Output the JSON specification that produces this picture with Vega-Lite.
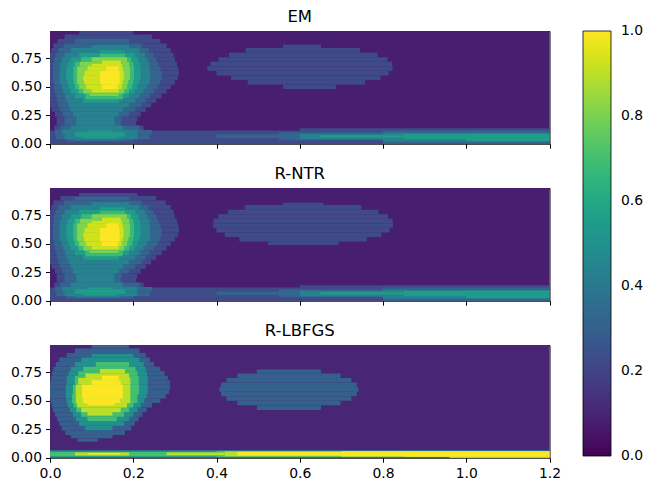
{
"$schema":"https://vega.github.io/schema/vega-lite/v6.json",
"padding":{"left":10,"top":8,"right":5,"bottom":5},
"background":"white",
"data":{"values":[
{"p":"EM","x0":0,"x1":1.2,"y0":0,"y1":0.99,"v":0.08},
{"p":"EM","x0":0.07,"x1":0.2,"y0":0.96,"y1":0.99,"v":0.22},
{"p":"EM","x0":0.035,"x1":0.245,"y0":0.92,"y1":0.96,"v":0.22},
{"p":"EM","x0":0.018,"x1":0.265,"y0":0.88,"y1":0.92,"v":0.22},
{"p":"EM","x0":0.008,"x1":0.28,"y0":0.84,"y1":0.88,"v":0.22},
{"p":"EM","x0":0.003,"x1":0.29,"y0":0.8,"y1":0.84,"v":0.22},
{"p":"EM","x0":0,"x1":0.297,"y0":0.76,"y1":0.8,"v":0.22},
{"p":"EM","x0":0,"x1":0.3,"y0":0.72,"y1":0.76,"v":0.22},
{"p":"EM","x0":0,"x1":0.305,"y0":0.68,"y1":0.72,"v":0.22},
{"p":"EM","x0":0,"x1":0.308,"y0":0.64,"y1":0.68,"v":0.22},
{"p":"EM","x0":0,"x1":0.31,"y0":0.6,"y1":0.64,"v":0.22},
{"p":"EM","x0":0,"x1":0.307,"y0":0.56,"y1":0.6,"v":0.22},
{"p":"EM","x0":0,"x1":0.3,"y0":0.52,"y1":0.56,"v":0.22},
{"p":"EM","x0":0,"x1":0.29,"y0":0.48,"y1":0.52,"v":0.22},
{"p":"EM","x0":0,"x1":0.28,"y0":0.44,"y1":0.48,"v":0.22},
{"p":"EM","x0":0,"x1":0.268,"y0":0.4,"y1":0.44,"v":0.22},
{"p":"EM","x0":0,"x1":0.255,"y0":0.36,"y1":0.4,"v":0.22},
{"p":"EM","x0":0,"x1":0.243,"y0":0.32,"y1":0.36,"v":0.22},
{"p":"EM","x0":0.004,"x1":0.23,"y0":0.28,"y1":0.32,"v":0.22},
{"p":"EM","x0":0.012,"x1":0.218,"y0":0.24,"y1":0.28,"v":0.22},
{"p":"EM","x0":0.016,"x1":0.21,"y0":0.2,"y1":0.24,"v":0.22},
{"p":"EM","x0":0.016,"x1":0.207,"y0":0.16,"y1":0.2,"v":0.22},
{"p":"EM","x0":0.01,"x1":0.225,"y0":0.12,"y1":0.16,"v":0.22},
{"p":"EM","x0":0,"x1":0.6,"y0":0,"y1":0.117,"v":0.22},
{"p":"EM","x0":0.6,"x1":1.2,"y0":0,"y1":0.135,"v":0.22},
{"p":"EM","x0":0.06,"x1":0.19,"y0":0.88,"y1":0.92,"v":0.32},
{"p":"EM","x0":0.033,"x1":0.22,"y0":0.84,"y1":0.88,"v":0.32},
{"p":"EM","x0":0.02,"x1":0.237,"y0":0.8,"y1":0.84,"v":0.32},
{"p":"EM","x0":0.013,"x1":0.248,"y0":0.76,"y1":0.8,"v":0.32},
{"p":"EM","x0":0.01,"x1":0.255,"y0":0.72,"y1":0.76,"v":0.32},
{"p":"EM","x0":0.008,"x1":0.26,"y0":0.68,"y1":0.72,"v":0.32},
{"p":"EM","x0":0.007,"x1":0.265,"y0":0.64,"y1":0.68,"v":0.32},
{"p":"EM","x0":0.007,"x1":0.268,"y0":0.56,"y1":0.64,"v":0.32},
{"p":"EM","x0":0.008,"x1":0.265,"y0":0.52,"y1":0.56,"v":0.32},
{"p":"EM","x0":0.01,"x1":0.258,"y0":0.48,"y1":0.52,"v":0.32},
{"p":"EM","x0":0.012,"x1":0.25,"y0":0.44,"y1":0.48,"v":0.32},
{"p":"EM","x0":0.015,"x1":0.24,"y0":0.4,"y1":0.44,"v":0.32},
{"p":"EM","x0":0.017,"x1":0.23,"y0":0.36,"y1":0.4,"v":0.32},
{"p":"EM","x0":0.02,"x1":0.22,"y0":0.32,"y1":0.36,"v":0.32},
{"p":"EM","x0":0.025,"x1":0.205,"y0":0.28,"y1":0.32,"v":0.32},
{"p":"EM","x0":0.03,"x1":0.19,"y0":0.24,"y1":0.28,"v":0.32},
{"p":"EM","x0":0.035,"x1":0.172,"y0":0.2,"y1":0.24,"v":0.32},
{"p":"EM","x0":0.035,"x1":0.17,"y0":0.16,"y1":0.2,"v":0.32},
{"p":"EM","x0":0.025,"x1":0.215,"y0":0.12,"y1":0.16,"v":0.32},
{"p":"EM","x0":0.012,"x1":0.245,"y0":0.08,"y1":0.12,"v":0.32},
{"p":"EM","x0":0.015,"x1":0.24,"y0":0.04,"y1":0.08,"v":0.32},
{"p":"EM","x0":0.04,"x1":0.2,"y0":0.02,"y1":0.04,"v":0.32},
{"p":"EM","x0":0.4,"x1":0.55,"y0":0.05,"y1":0.08,"v":0.32},
{"p":"EM","x0":0.55,"x1":0.8,"y0":0.03,"y1":0.1,"v":0.32},
{"p":"EM","x0":0.8,"x1":1.2,"y0":0,"y1":0.115,"v":0.32},
{"p":"EM","x0":0.1,"x1":0.19,"y0":0.84,"y1":0.865,"v":0.44},
{"p":"EM","x0":0.05,"x1":0.215,"y0":0.8,"y1":0.84,"v":0.44},
{"p":"EM","x0":0.035,"x1":0.228,"y0":0.76,"y1":0.8,"v":0.44},
{"p":"EM","x0":0.028,"x1":0.234,"y0":0.72,"y1":0.76,"v":0.44},
{"p":"EM","x0":0.025,"x1":0.238,"y0":0.68,"y1":0.72,"v":0.44},
{"p":"EM","x0":0.023,"x1":0.24,"y0":0.52,"y1":0.68,"v":0.44},
{"p":"EM","x0":0.028,"x1":0.233,"y0":0.48,"y1":0.52,"v":0.44},
{"p":"EM","x0":0.032,"x1":0.225,"y0":0.44,"y1":0.48,"v":0.44},
{"p":"EM","x0":0.036,"x1":0.215,"y0":0.4,"y1":0.44,"v":0.44},
{"p":"EM","x0":0.04,"x1":0.205,"y0":0.36,"y1":0.4,"v":0.44},
{"p":"EM","x0":0.045,"x1":0.19,"y0":0.32,"y1":0.36,"v":0.44},
{"p":"EM","x0":0.05,"x1":0.175,"y0":0.28,"y1":0.32,"v":0.44},
{"p":"EM","x0":0.055,"x1":0.165,"y0":0.24,"y1":0.28,"v":0.44},
{"p":"EM","x0":0.063,"x1":0.155,"y0":0.16,"y1":0.24,"v":0.44},
{"p":"EM","x0":0.05,"x1":0.175,"y0":0.12,"y1":0.16,"v":0.44},
{"p":"EM","x0":0.03,"x1":0.21,"y0":0.08,"y1":0.12,"v":0.44},
{"p":"EM","x0":0.035,"x1":0.21,"y0":0.04,"y1":0.08,"v":0.44},
{"p":"EM","x0":0.06,"x1":0.17,"y0":0.03,"y1":0.04,"v":0.44},
{"p":"EM","x0":0.6,"x1":0.8,"y0":0.04,"y1":0.085,"v":0.44},
{"p":"EM","x0":0.8,"x1":1.2,"y0":0.02,"y1":0.095,"v":0.44},
{"p":"EM","x0":0.12,"x1":0.18,"y0":0.8,"y1":0.82,"v":0.55},
{"p":"EM","x0":0.07,"x1":0.205,"y0":0.76,"y1":0.8,"v":0.55},
{"p":"EM","x0":0.05,"x1":0.212,"y0":0.72,"y1":0.76,"v":0.55},
{"p":"EM","x0":0.043,"x1":0.216,"y0":0.68,"y1":0.72,"v":0.55},
{"p":"EM","x0":0.04,"x1":0.218,"y0":0.64,"y1":0.68,"v":0.55},
{"p":"EM","x0":0.039,"x1":0.218,"y0":0.56,"y1":0.64,"v":0.55},
{"p":"EM","x0":0.041,"x1":0.215,"y0":0.52,"y1":0.56,"v":0.55},
{"p":"EM","x0":0.045,"x1":0.21,"y0":0.48,"y1":0.52,"v":0.55},
{"p":"EM","x0":0.05,"x1":0.203,"y0":0.44,"y1":0.48,"v":0.55},
{"p":"EM","x0":0.06,"x1":0.19,"y0":0.4,"y1":0.44,"v":0.55},
{"p":"EM","x0":0.08,"x1":0.165,"y0":0.36,"y1":0.4,"v":0.55},
{"p":"EM","x0":0.09,"x1":0.15,"y0":0.1,"y1":0.115,"v":0.55},
{"p":"EM","x0":0.06,"x1":0.18,"y0":0.06,"y1":0.1,"v":0.55},
{"p":"EM","x0":0.08,"x1":0.16,"y0":0.045,"y1":0.06,"v":0.55},
{"p":"EM","x0":0.65,"x1":0.85,"y0":0.055,"y1":0.075,"v":0.55},
{"p":"EM","x0":0.85,"x1":1.0,"y0":0.04,"y1":0.085,"v":0.55},
{"p":"EM","x0":1.0,"x1":1.2,"y0":0.022,"y1":0.088,"v":0.55},
{"p":"EM","x0":0.12,"x1":0.18,"y0":0.76,"y1":0.79,"v":0.68},
{"p":"EM","x0":0.075,"x1":0.195,"y0":0.72,"y1":0.76,"v":0.68},
{"p":"EM","x0":0.06,"x1":0.2,"y0":0.68,"y1":0.72,"v":0.68},
{"p":"EM","x0":0.056,"x1":0.202,"y0":0.56,"y1":0.68,"v":0.68},
{"p":"EM","x0":0.057,"x1":0.2,"y0":0.52,"y1":0.56,"v":0.68},
{"p":"EM","x0":0.06,"x1":0.197,"y0":0.48,"y1":0.52,"v":0.68},
{"p":"EM","x0":0.068,"x1":0.19,"y0":0.44,"y1":0.48,"v":0.68},
{"p":"EM","x0":0.085,"x1":0.175,"y0":0.39,"y1":0.44,"v":0.68},
{"p":"EM","x0":0.1,"x1":0.185,"y0":0.72,"y1":0.76,"v":0.81},
{"p":"EM","x0":0.072,"x1":0.19,"y0":0.68,"y1":0.72,"v":0.81},
{"p":"EM","x0":0.065,"x1":0.192,"y0":0.56,"y1":0.68,"v":0.81},
{"p":"EM","x0":0.065,"x1":0.188,"y0":0.52,"y1":0.56,"v":0.81},
{"p":"EM","x0":0.07,"x1":0.185,"y0":0.48,"y1":0.52,"v":0.81},
{"p":"EM","x0":0.08,"x1":0.178,"y0":0.44,"y1":0.48,"v":0.81},
{"p":"EM","x0":0.095,"x1":0.165,"y0":0.42,"y1":0.44,"v":0.81},
{"p":"EM","x0":0.125,"x1":0.17,"y0":0.7,"y1":0.73,"v":0.93},
{"p":"EM","x0":0.1,"x1":0.173,"y0":0.68,"y1":0.7,"v":0.93},
{"p":"EM","x0":0.09,"x1":0.175,"y0":0.64,"y1":0.68,"v":0.93},
{"p":"EM","x0":0.083,"x1":0.177,"y0":0.6,"y1":0.64,"v":0.93},
{"p":"EM","x0":0.08,"x1":0.177,"y0":0.56,"y1":0.6,"v":0.93},
{"p":"EM","x0":0.082,"x1":0.175,"y0":0.52,"y1":0.56,"v":0.93},
{"p":"EM","x0":0.087,"x1":0.172,"y0":0.48,"y1":0.52,"v":0.93},
{"p":"EM","x0":0.1,"x1":0.165,"y0":0.45,"y1":0.48,"v":0.93},
{"p":"EM","x0":0.135,"x1":0.165,"y0":0.64,"y1":0.68,"v":1.0},
{"p":"EM","x0":0.12,"x1":0.167,"y0":0.52,"y1":0.64,"v":1.0},
{"p":"EM","x0":0.125,"x1":0.162,"y0":0.48,"y1":0.52,"v":1.0},
{"p":"EM","x0":0.56,"x1":0.687,"y0":0.48,"y1":0.52,"v":0.22},
{"p":"EM","x0":0.475,"x1":0.757,"y0":0.52,"y1":0.56,"v":0.22},
{"p":"EM","x0":0.435,"x1":0.794,"y0":0.56,"y1":0.6,"v":0.22},
{"p":"EM","x0":0.4,"x1":0.814,"y0":0.6,"y1":0.64,"v":0.22},
{"p":"EM","x0":0.378,"x1":0.823,"y0":0.64,"y1":0.68,"v":0.22},
{"p":"EM","x0":0.385,"x1":0.822,"y0":0.68,"y1":0.72,"v":0.22},
{"p":"EM","x0":0.405,"x1":0.811,"y0":0.72,"y1":0.76,"v":0.22},
{"p":"EM","x0":0.43,"x1":0.787,"y0":0.76,"y1":0.8,"v":0.22},
{"p":"EM","x0":0.47,"x1":0.745,"y0":0.8,"y1":0.84,"v":0.22},
{"p":"EM","x0":0.56,"x1":0.651,"y0":0.84,"y1":0.87,"v":0.22},

{"p":"R-NTR","x0":0,"x1":1.2,"y0":0,"y1":0.99,"v":0.08},
{"p":"R-NTR","x0":0.07,"x1":0.21,"y0":0.92,"y1":0.945,"v":0.22},
{"p":"R-NTR","x0":0.025,"x1":0.255,"y0":0.88,"y1":0.92,"v":0.22},
{"p":"R-NTR","x0":0.008,"x1":0.278,"y0":0.84,"y1":0.88,"v":0.22},
{"p":"R-NTR","x0":0.003,"x1":0.29,"y0":0.8,"y1":0.84,"v":0.22},
{"p":"R-NTR","x0":0,"x1":0.297,"y0":0.76,"y1":0.8,"v":0.22},
{"p":"R-NTR","x0":0,"x1":0.3,"y0":0.72,"y1":0.76,"v":0.22},
{"p":"R-NTR","x0":0,"x1":0.305,"y0":0.68,"y1":0.72,"v":0.22},
{"p":"R-NTR","x0":0,"x1":0.308,"y0":0.64,"y1":0.68,"v":0.22},
{"p":"R-NTR","x0":0,"x1":0.31,"y0":0.6,"y1":0.64,"v":0.22},
{"p":"R-NTR","x0":0,"x1":0.307,"y0":0.56,"y1":0.6,"v":0.22},
{"p":"R-NTR","x0":0,"x1":0.3,"y0":0.52,"y1":0.56,"v":0.22},
{"p":"R-NTR","x0":0,"x1":0.29,"y0":0.48,"y1":0.52,"v":0.22},
{"p":"R-NTR","x0":0,"x1":0.28,"y0":0.44,"y1":0.48,"v":0.22},
{"p":"R-NTR","x0":0,"x1":0.268,"y0":0.4,"y1":0.44,"v":0.22},
{"p":"R-NTR","x0":0,"x1":0.255,"y0":0.36,"y1":0.4,"v":0.22},
{"p":"R-NTR","x0":0,"x1":0.243,"y0":0.32,"y1":0.36,"v":0.22},
{"p":"R-NTR","x0":0.004,"x1":0.23,"y0":0.28,"y1":0.32,"v":0.22},
{"p":"R-NTR","x0":0.012,"x1":0.218,"y0":0.24,"y1":0.28,"v":0.22},
{"p":"R-NTR","x0":0.016,"x1":0.21,"y0":0.2,"y1":0.24,"v":0.22},
{"p":"R-NTR","x0":0.016,"x1":0.207,"y0":0.16,"y1":0.2,"v":0.22},
{"p":"R-NTR","x0":0.01,"x1":0.225,"y0":0.12,"y1":0.16,"v":0.22},
{"p":"R-NTR","x0":0,"x1":0.6,"y0":0,"y1":0.117,"v":0.22},
{"p":"R-NTR","x0":0.6,"x1":1.2,"y0":0,"y1":0.135,"v":0.22},
{"p":"R-NTR","x0":0.06,"x1":0.19,"y0":0.88,"y1":0.91,"v":0.32},
{"p":"R-NTR","x0":0.033,"x1":0.22,"y0":0.84,"y1":0.88,"v":0.32},
{"p":"R-NTR","x0":0.02,"x1":0.237,"y0":0.8,"y1":0.84,"v":0.32},
{"p":"R-NTR","x0":0.013,"x1":0.248,"y0":0.76,"y1":0.8,"v":0.32},
{"p":"R-NTR","x0":0.01,"x1":0.255,"y0":0.72,"y1":0.76,"v":0.32},
{"p":"R-NTR","x0":0.008,"x1":0.26,"y0":0.68,"y1":0.72,"v":0.32},
{"p":"R-NTR","x0":0.007,"x1":0.265,"y0":0.64,"y1":0.68,"v":0.32},
{"p":"R-NTR","x0":0.007,"x1":0.268,"y0":0.56,"y1":0.64,"v":0.32},
{"p":"R-NTR","x0":0.008,"x1":0.265,"y0":0.52,"y1":0.56,"v":0.32},
{"p":"R-NTR","x0":0.01,"x1":0.258,"y0":0.48,"y1":0.52,"v":0.32},
{"p":"R-NTR","x0":0.012,"x1":0.25,"y0":0.44,"y1":0.48,"v":0.32},
{"p":"R-NTR","x0":0.015,"x1":0.24,"y0":0.4,"y1":0.44,"v":0.32},
{"p":"R-NTR","x0":0.017,"x1":0.23,"y0":0.36,"y1":0.4,"v":0.32},
{"p":"R-NTR","x0":0.02,"x1":0.22,"y0":0.32,"y1":0.36,"v":0.32},
{"p":"R-NTR","x0":0.025,"x1":0.205,"y0":0.28,"y1":0.32,"v":0.32},
{"p":"R-NTR","x0":0.03,"x1":0.19,"y0":0.24,"y1":0.28,"v":0.32},
{"p":"R-NTR","x0":0.035,"x1":0.172,"y0":0.2,"y1":0.24,"v":0.32},
{"p":"R-NTR","x0":0.035,"x1":0.17,"y0":0.16,"y1":0.2,"v":0.32},
{"p":"R-NTR","x0":0.025,"x1":0.215,"y0":0.12,"y1":0.16,"v":0.32},
{"p":"R-NTR","x0":0.012,"x1":0.245,"y0":0.08,"y1":0.12,"v":0.32},
{"p":"R-NTR","x0":0.015,"x1":0.24,"y0":0.04,"y1":0.08,"v":0.32},
{"p":"R-NTR","x0":0.04,"x1":0.2,"y0":0.02,"y1":0.04,"v":0.32},
{"p":"R-NTR","x0":0.4,"x1":0.55,"y0":0.05,"y1":0.08,"v":0.32},
{"p":"R-NTR","x0":0.55,"x1":0.8,"y0":0.03,"y1":0.1,"v":0.32},
{"p":"R-NTR","x0":0.8,"x1":1.2,"y0":0,"y1":0.115,"v":0.32},
{"p":"R-NTR","x0":0.1,"x1":0.19,"y0":0.84,"y1":0.865,"v":0.44},
{"p":"R-NTR","x0":0.05,"x1":0.215,"y0":0.8,"y1":0.84,"v":0.44},
{"p":"R-NTR","x0":0.035,"x1":0.228,"y0":0.76,"y1":0.8,"v":0.44},
{"p":"R-NTR","x0":0.028,"x1":0.234,"y0":0.72,"y1":0.76,"v":0.44},
{"p":"R-NTR","x0":0.025,"x1":0.238,"y0":0.68,"y1":0.72,"v":0.44},
{"p":"R-NTR","x0":0.023,"x1":0.24,"y0":0.52,"y1":0.68,"v":0.44},
{"p":"R-NTR","x0":0.028,"x1":0.233,"y0":0.48,"y1":0.52,"v":0.44},
{"p":"R-NTR","x0":0.032,"x1":0.225,"y0":0.44,"y1":0.48,"v":0.44},
{"p":"R-NTR","x0":0.036,"x1":0.215,"y0":0.4,"y1":0.44,"v":0.44},
{"p":"R-NTR","x0":0.04,"x1":0.205,"y0":0.36,"y1":0.4,"v":0.44},
{"p":"R-NTR","x0":0.045,"x1":0.19,"y0":0.32,"y1":0.36,"v":0.44},
{"p":"R-NTR","x0":0.05,"x1":0.175,"y0":0.28,"y1":0.32,"v":0.44},
{"p":"R-NTR","x0":0.055,"x1":0.165,"y0":0.24,"y1":0.28,"v":0.44},
{"p":"R-NTR","x0":0.063,"x1":0.155,"y0":0.16,"y1":0.24,"v":0.44},
{"p":"R-NTR","x0":0.05,"x1":0.175,"y0":0.12,"y1":0.16,"v":0.44},
{"p":"R-NTR","x0":0.03,"x1":0.21,"y0":0.08,"y1":0.12,"v":0.44},
{"p":"R-NTR","x0":0.035,"x1":0.21,"y0":0.04,"y1":0.08,"v":0.44},
{"p":"R-NTR","x0":0.06,"x1":0.17,"y0":0.03,"y1":0.04,"v":0.44},
{"p":"R-NTR","x0":0.6,"x1":0.8,"y0":0.04,"y1":0.085,"v":0.44},
{"p":"R-NTR","x0":0.8,"x1":1.2,"y0":0.02,"y1":0.095,"v":0.44},
{"p":"R-NTR","x0":0.12,"x1":0.18,"y0":0.8,"y1":0.82,"v":0.55},
{"p":"R-NTR","x0":0.07,"x1":0.205,"y0":0.76,"y1":0.8,"v":0.55},
{"p":"R-NTR","x0":0.05,"x1":0.212,"y0":0.72,"y1":0.76,"v":0.55},
{"p":"R-NTR","x0":0.043,"x1":0.216,"y0":0.68,"y1":0.72,"v":0.55},
{"p":"R-NTR","x0":0.04,"x1":0.218,"y0":0.64,"y1":0.68,"v":0.55},
{"p":"R-NTR","x0":0.039,"x1":0.218,"y0":0.56,"y1":0.64,"v":0.55},
{"p":"R-NTR","x0":0.041,"x1":0.215,"y0":0.52,"y1":0.56,"v":0.55},
{"p":"R-NTR","x0":0.045,"x1":0.21,"y0":0.48,"y1":0.52,"v":0.55},
{"p":"R-NTR","x0":0.05,"x1":0.203,"y0":0.44,"y1":0.48,"v":0.55},
{"p":"R-NTR","x0":0.06,"x1":0.19,"y0":0.4,"y1":0.44,"v":0.55},
{"p":"R-NTR","x0":0.08,"x1":0.165,"y0":0.36,"y1":0.4,"v":0.55},
{"p":"R-NTR","x0":0.09,"x1":0.15,"y0":0.1,"y1":0.115,"v":0.55},
{"p":"R-NTR","x0":0.06,"x1":0.18,"y0":0.06,"y1":0.1,"v":0.55},
{"p":"R-NTR","x0":0.08,"x1":0.16,"y0":0.045,"y1":0.06,"v":0.55},
{"p":"R-NTR","x0":0.65,"x1":0.85,"y0":0.055,"y1":0.075,"v":0.55},
{"p":"R-NTR","x0":0.85,"x1":1.0,"y0":0.04,"y1":0.085,"v":0.55},
{"p":"R-NTR","x0":1.0,"x1":1.2,"y0":0.022,"y1":0.088,"v":0.55},
{"p":"R-NTR","x0":0.12,"x1":0.18,"y0":0.76,"y1":0.79,"v":0.68},
{"p":"R-NTR","x0":0.075,"x1":0.195,"y0":0.72,"y1":0.76,"v":0.68},
{"p":"R-NTR","x0":0.06,"x1":0.2,"y0":0.68,"y1":0.72,"v":0.68},
{"p":"R-NTR","x0":0.056,"x1":0.202,"y0":0.56,"y1":0.68,"v":0.68},
{"p":"R-NTR","x0":0.057,"x1":0.2,"y0":0.52,"y1":0.56,"v":0.68},
{"p":"R-NTR","x0":0.06,"x1":0.197,"y0":0.48,"y1":0.52,"v":0.68},
{"p":"R-NTR","x0":0.068,"x1":0.19,"y0":0.44,"y1":0.48,"v":0.68},
{"p":"R-NTR","x0":0.085,"x1":0.175,"y0":0.39,"y1":0.44,"v":0.68},
{"p":"R-NTR","x0":0.1,"x1":0.185,"y0":0.72,"y1":0.76,"v":0.81},
{"p":"R-NTR","x0":0.072,"x1":0.19,"y0":0.68,"y1":0.72,"v":0.81},
{"p":"R-NTR","x0":0.065,"x1":0.192,"y0":0.56,"y1":0.68,"v":0.81},
{"p":"R-NTR","x0":0.065,"x1":0.188,"y0":0.52,"y1":0.56,"v":0.81},
{"p":"R-NTR","x0":0.07,"x1":0.185,"y0":0.48,"y1":0.52,"v":0.81},
{"p":"R-NTR","x0":0.08,"x1":0.178,"y0":0.44,"y1":0.48,"v":0.81},
{"p":"R-NTR","x0":0.095,"x1":0.165,"y0":0.42,"y1":0.44,"v":0.81},
{"p":"R-NTR","x0":0.125,"x1":0.17,"y0":0.7,"y1":0.73,"v":0.93},
{"p":"R-NTR","x0":0.1,"x1":0.173,"y0":0.68,"y1":0.7,"v":0.93},
{"p":"R-NTR","x0":0.09,"x1":0.175,"y0":0.64,"y1":0.68,"v":0.93},
{"p":"R-NTR","x0":0.083,"x1":0.177,"y0":0.6,"y1":0.64,"v":0.93},
{"p":"R-NTR","x0":0.08,"x1":0.177,"y0":0.56,"y1":0.6,"v":0.93},
{"p":"R-NTR","x0":0.082,"x1":0.175,"y0":0.52,"y1":0.56,"v":0.93},
{"p":"R-NTR","x0":0.087,"x1":0.172,"y0":0.48,"y1":0.52,"v":0.93},
{"p":"R-NTR","x0":0.1,"x1":0.165,"y0":0.45,"y1":0.48,"v":0.93},
{"p":"R-NTR","x0":0.135,"x1":0.165,"y0":0.64,"y1":0.68,"v":1.0},
{"p":"R-NTR","x0":0.12,"x1":0.167,"y0":0.52,"y1":0.64,"v":1.0},
{"p":"R-NTR","x0":0.125,"x1":0.162,"y0":0.48,"y1":0.52,"v":1.0},
{"p":"R-NTR","x0":0.523,"x1":0.693,"y0":0.49,"y1":0.52,"v":0.22},
{"p":"R-NTR","x0":0.455,"x1":0.761,"y0":0.52,"y1":0.56,"v":0.22},
{"p":"R-NTR","x0":0.42,"x1":0.796,"y0":0.56,"y1":0.6,"v":0.22},
{"p":"R-NTR","x0":0.4,"x1":0.816,"y0":0.6,"y1":0.64,"v":0.22},
{"p":"R-NTR","x0":0.392,"x1":0.824,"y0":0.64,"y1":0.68,"v":0.22},
{"p":"R-NTR","x0":0.393,"x1":0.823,"y0":0.68,"y1":0.72,"v":0.22},
{"p":"R-NTR","x0":0.404,"x1":0.812,"y0":0.72,"y1":0.76,"v":0.22},
{"p":"R-NTR","x0":0.427,"x1":0.789,"y0":0.76,"y1":0.8,"v":0.22},
{"p":"R-NTR","x0":0.468,"x1":0.748,"y0":0.8,"y1":0.84,"v":0.22},
{"p":"R-NTR","x0":0.559,"x1":0.657,"y0":0.84,"y1":0.86,"v":0.22},

{"p":"R-LBFGS","x0":0,"x1":1.2,"y0":0,"y1":0.99,"v":0.1},
{"p":"R-LBFGS","x0":0.1,"x1":0.19,"y0":0.96,"y1":0.99,"v":0.3},
{"p":"R-LBFGS","x0":0.06,"x1":0.215,"y0":0.92,"y1":0.96,"v":0.3},
{"p":"R-LBFGS","x0":0.04,"x1":0.23,"y0":0.88,"y1":0.92,"v":0.3},
{"p":"R-LBFGS","x0":0.022,"x1":0.24,"y0":0.84,"y1":0.88,"v":0.3},
{"p":"R-LBFGS","x0":0.014,"x1":0.25,"y0":0.8,"y1":0.84,"v":0.3},
{"p":"R-LBFGS","x0":0.008,"x1":0.265,"y0":0.76,"y1":0.8,"v":0.3},
{"p":"R-LBFGS","x0":0.005,"x1":0.275,"y0":0.72,"y1":0.76,"v":0.3},
{"p":"R-LBFGS","x0":0.003,"x1":0.283,"y0":0.68,"y1":0.72,"v":0.3},
{"p":"R-LBFGS","x0":0.001,"x1":0.288,"y0":0.64,"y1":0.68,"v":0.3},
{"p":"R-LBFGS","x0":0,"x1":0.289,"y0":0.6,"y1":0.64,"v":0.3},
{"p":"R-LBFGS","x0":0,"x1":0.286,"y0":0.56,"y1":0.6,"v":0.3},
{"p":"R-LBFGS","x0":0,"x1":0.278,"y0":0.52,"y1":0.56,"v":0.3},
{"p":"R-LBFGS","x0":0.002,"x1":0.265,"y0":0.48,"y1":0.52,"v":0.3},
{"p":"R-LBFGS","x0":0.004,"x1":0.245,"y0":0.44,"y1":0.48,"v":0.3},
{"p":"R-LBFGS","x0":0.007,"x1":0.232,"y0":0.4,"y1":0.44,"v":0.3},
{"p":"R-LBFGS","x0":0.012,"x1":0.222,"y0":0.36,"y1":0.4,"v":0.3},
{"p":"R-LBFGS","x0":0.017,"x1":0.213,"y0":0.32,"y1":0.36,"v":0.3},
{"p":"R-LBFGS","x0":0.022,"x1":0.204,"y0":0.28,"y1":0.32,"v":0.3},
{"p":"R-LBFGS","x0":0.028,"x1":0.195,"y0":0.24,"y1":0.28,"v":0.3},
{"p":"R-LBFGS","x0":0.037,"x1":0.18,"y0":0.2,"y1":0.24,"v":0.3},
{"p":"R-LBFGS","x0":0.05,"x1":0.15,"y0":0.17,"y1":0.2,"v":0.3},
{"p":"R-LBFGS","x0":0.066,"x1":0.115,"y0":0.14,"y1":0.17,"v":0.3},
{"p":"R-LBFGS","x0":0,"x1":1.2,"y0":0,"y1":0.068,"v":0.3},
{"p":"R-LBFGS","x0":0.497,"x1":0.651,"y0":0.42,"y1":0.46,"v":0.3},
{"p":"R-LBFGS","x0":0.45,"x1":0.698,"y0":0.46,"y1":0.5,"v":0.3},
{"p":"R-LBFGS","x0":0.424,"x1":0.724,"y0":0.5,"y1":0.54,"v":0.3},
{"p":"R-LBFGS","x0":0.411,"x1":0.737,"y0":0.54,"y1":0.58,"v":0.3},
{"p":"R-LBFGS","x0":0.407,"x1":0.741,"y0":0.58,"y1":0.62,"v":0.3},
{"p":"R-LBFGS","x0":0.411,"x1":0.737,"y0":0.62,"y1":0.66,"v":0.3},
{"p":"R-LBFGS","x0":0.424,"x1":0.724,"y0":0.66,"y1":0.7,"v":0.3},
{"p":"R-LBFGS","x0":0.45,"x1":0.698,"y0":0.7,"y1":0.74,"v":0.3},
{"p":"R-LBFGS","x0":0.497,"x1":0.651,"y0":0.74,"y1":0.775,"v":0.3},
{"p":"R-LBFGS","x0":0.1,"x1":0.2,"y0":0.88,"y1":0.91,"v":0.5},
{"p":"R-LBFGS","x0":0.075,"x1":0.215,"y0":0.84,"y1":0.88,"v":0.5},
{"p":"R-LBFGS","x0":0.06,"x1":0.225,"y0":0.8,"y1":0.84,"v":0.5},
{"p":"R-LBFGS","x0":0.05,"x1":0.23,"y0":0.76,"y1":0.8,"v":0.5},
{"p":"R-LBFGS","x0":0.045,"x1":0.233,"y0":0.72,"y1":0.76,"v":0.5},
{"p":"R-LBFGS","x0":0.04,"x1":0.235,"y0":0.64,"y1":0.72,"v":0.5},
{"p":"R-LBFGS","x0":0.038,"x1":0.235,"y0":0.56,"y1":0.64,"v":0.5},
{"p":"R-LBFGS","x0":0.038,"x1":0.232,"y0":0.52,"y1":0.56,"v":0.5},
{"p":"R-LBFGS","x0":0.04,"x1":0.226,"y0":0.48,"y1":0.52,"v":0.5},
{"p":"R-LBFGS","x0":0.043,"x1":0.218,"y0":0.44,"y1":0.48,"v":0.5},
{"p":"R-LBFGS","x0":0.048,"x1":0.21,"y0":0.4,"y1":0.44,"v":0.5},
{"p":"R-LBFGS","x0":0.055,"x1":0.2,"y0":0.36,"y1":0.4,"v":0.5},
{"p":"R-LBFGS","x0":0.062,"x1":0.19,"y0":0.32,"y1":0.36,"v":0.5},
{"p":"R-LBFGS","x0":0.07,"x1":0.178,"y0":0.28,"y1":0.32,"v":0.5},
{"p":"R-LBFGS","x0":0.085,"x1":0.15,"y0":0.24,"y1":0.28,"v":0.5},
{"p":"R-LBFGS","x0":0,"x1":1.2,"y0":0.003,"y1":0.062,"v":0.5},
{"p":"R-LBFGS","x0":0.11,"x1":0.19,"y0":0.8,"y1":0.84,"v":0.7},
{"p":"R-LBFGS","x0":0.08,"x1":0.205,"y0":0.76,"y1":0.8,"v":0.7},
{"p":"R-LBFGS","x0":0.068,"x1":0.21,"y0":0.72,"y1":0.76,"v":0.7},
{"p":"R-LBFGS","x0":0.06,"x1":0.213,"y0":0.64,"y1":0.72,"v":0.7},
{"p":"R-LBFGS","x0":0.055,"x1":0.214,"y0":0.56,"y1":0.64,"v":0.7},
{"p":"R-LBFGS","x0":0.053,"x1":0.21,"y0":0.48,"y1":0.56,"v":0.7},
{"p":"R-LBFGS","x0":0.057,"x1":0.2,"y0":0.44,"y1":0.48,"v":0.7},
{"p":"R-LBFGS","x0":0.063,"x1":0.19,"y0":0.4,"y1":0.44,"v":0.7},
{"p":"R-LBFGS","x0":0.075,"x1":0.178,"y0":0.36,"y1":0.4,"v":0.7},
{"p":"R-LBFGS","x0":0.09,"x1":0.16,"y0":0.32,"y1":0.36,"v":0.7},
{"p":"R-LBFGS","x0":0,"x1":0.4,"y0":0.012,"y1":0.05,"v":0.7},
{"p":"R-LBFGS","x0":0.4,"x1":1.2,"y0":0.006,"y1":0.058,"v":0.7},
{"p":"R-LBFGS","x0":0.12,"x1":0.18,"y0":0.74,"y1":0.78,"v":0.9},
{"p":"R-LBFGS","x0":0.085,"x1":0.19,"y0":0.7,"y1":0.74,"v":0.9},
{"p":"R-LBFGS","x0":0.068,"x1":0.193,"y0":0.64,"y1":0.7,"v":0.9},
{"p":"R-LBFGS","x0":0.062,"x1":0.193,"y0":0.48,"y1":0.64,"v":0.9},
{"p":"R-LBFGS","x0":0.065,"x1":0.185,"y0":0.44,"y1":0.48,"v":0.9},
{"p":"R-LBFGS","x0":0.075,"x1":0.17,"y0":0.4,"y1":0.44,"v":0.9},
{"p":"R-LBFGS","x0":0.09,"x1":0.15,"y0":0.37,"y1":0.4,"v":0.9},
{"p":"R-LBFGS","x0":0.06,"x1":0.19,"y0":0.02,"y1":0.045,"v":0.9},
{"p":"R-LBFGS","x0":0.28,"x1":0.42,"y0":0.022,"y1":0.045,"v":0.9},
{"p":"R-LBFGS","x0":0.42,"x1":0.85,"y0":0.012,"y1":0.055,"v":0.9},
{"p":"R-LBFGS","x0":0.85,"x1":1.2,"y0":0.006,"y1":0.057,"v":0.9},
{"p":"R-LBFGS","x0":0.125,"x1":0.165,"y0":0.68,"y1":0.72,"v":1.0},
{"p":"R-LBFGS","x0":0.1,"x1":0.17,"y0":0.64,"y1":0.68,"v":1.0},
{"p":"R-LBFGS","x0":0.077,"x1":0.175,"y0":0.52,"y1":0.64,"v":1.0},
{"p":"R-LBFGS","x0":0.08,"x1":0.168,"y0":0.48,"y1":0.52,"v":1.0},
{"p":"R-LBFGS","x0":0.09,"x1":0.155,"y0":0.46,"y1":0.48,"v":1.0},
{"p":"R-LBFGS","x0":0.09,"x1":0.17,"y0":0.028,"y1":0.04,"v":1.0},
{"p":"R-LBFGS","x0":0.45,"x1":0.7,"y0":0.02,"y1":0.05,"v":1.0},
{"p":"R-LBFGS","x0":0.7,"x1":1.2,"y0":0.01,"y1":0.056,"v":1.0},
{"p":"R-LBFGS","x0":0.96,"x1":1.2,"y0":0,"y1":0.01,"v":1.0}
]},
"config":{
"font":"DejaVu Sans",
"view":{"stroke":"black","strokeWidth":1},
"axis":{"domain":false,"grid":false,"tickColor":"black","tickSize":4.5,"labelFontSize":13.9,"labelColor":"black","labelPadding":4,"labelFont":"DejaVu Sans","labelFlush":false},
"title":{"fontSize":16.5,"fontWeight":"normal","color":"black","offset":6,"anchor":"middle","frame":"group","font":"DejaVu Sans"},
"legend":{"labelFont":"DejaVu Sans"}
},
"spacing":44,
"bounds":"flush",
"resolve":{"scale":{"color":"shared"}},
"vconcat":[
{"title":"EM","width":499.5,"height":112.7,
"transform":[{"filter":{"field":"p","equal":"EM"}}],
"mark":{"type":"rect"},
"encoding":{
"x":{"field":"x0","type":"quantitative","scale":{"domain":[0,1.2],"nice":false,"zero":false},"axis":{"values":[0,0.2,0.4,0.6,0.8,1.0,1.2],"labels":false,"title":null}},
"x2":{"field":"x1"},
"y":{"field":"y0","type":"quantitative","scale":{"domain":[0,0.99],"nice":false,"zero":false},"axis":{"values":[0,0.25,0.5,0.75],"format":".2f","title":null}},
"y2":{"field":"y1"},
"color":{"field":"v","type":"quantitative","scale":{"scheme":"viridis","domain":[0,1]},"legend":{"type":"gradient","title":null,"orient":"right","offset":21,"gradientLength":425,"gradientThickness":28,"values":[0,0.2,0.4,0.6,0.8,1.0],"format":".1f","labelFontSize":13.9,"labelColor":"black","labelOffset":10,"labelBaseline":"middle","labelOverlap":false,"gradientStrokeColor":"black","gradientStrokeWidth":0.8,"encode":{"labels":{"update":{"baseline":{"value":"middle"}}}}}}
}},
{"title":"R-NTR","width":499.5,"height":112.7,
"transform":[{"filter":{"field":"p","equal":"R-NTR"}}],
"mark":{"type":"rect"},
"encoding":{
"x":{"field":"x0","type":"quantitative","scale":{"domain":[0,1.2],"nice":false,"zero":false},"axis":{"values":[0,0.2,0.4,0.6,0.8,1.0,1.2],"labels":false,"title":null}},
"x2":{"field":"x1"},
"y":{"field":"y0","type":"quantitative","scale":{"domain":[0,0.99],"nice":false,"zero":false},"axis":{"values":[0,0.25,0.5,0.75],"format":".2f","title":null}},
"y2":{"field":"y1"},
"color":{"field":"v","type":"quantitative","scale":{"scheme":"viridis","domain":[0,1]}}
}},
{"title":"R-LBFGS","width":499.5,"height":112.7,
"transform":[{"filter":{"field":"p","equal":"R-LBFGS"}}],
"mark":{"type":"rect"},
"encoding":{
"x":{"field":"x0","type":"quantitative","scale":{"domain":[0,1.2],"nice":false,"zero":false},"axis":{"values":[0,0.2,0.4,0.6,0.8,1.0,1.2],"format":".1f","title":null}},
"x2":{"field":"x1"},
"y":{"field":"y0","type":"quantitative","scale":{"domain":[0,0.99],"nice":false,"zero":false},"axis":{"values":[0,0.25,0.5,0.75],"format":".2f","title":null}},
"y2":{"field":"y1"},
"color":{"field":"v","type":"quantitative","scale":{"scheme":"viridis","domain":[0,1]}}
}}
]
}
